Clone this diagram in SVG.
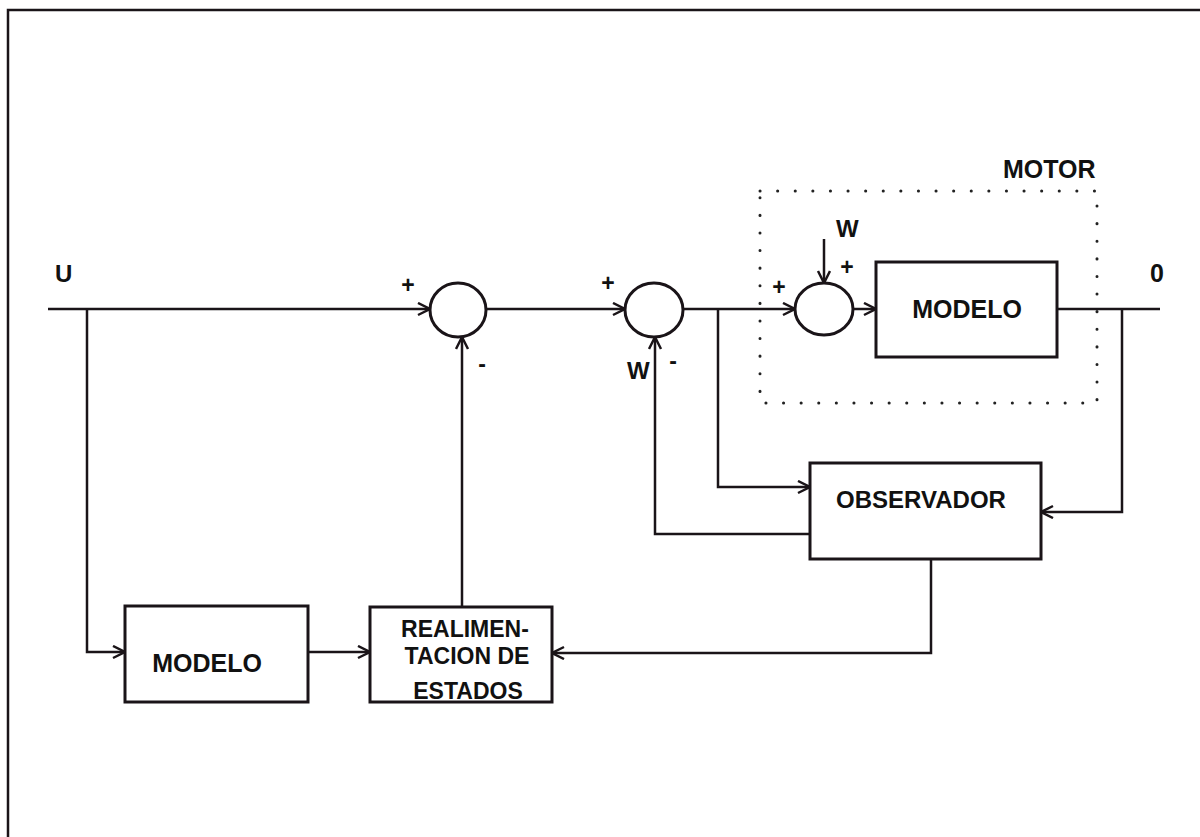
<svg xmlns="http://www.w3.org/2000/svg" width="1200" height="837" viewBox="0 0 1200 837">
<defs>
<marker id="arr" markerUnits="userSpaceOnUse" markerWidth="16" markerHeight="16" refX="13" refY="7" orient="auto">
<path d="M1,1 L13,7 L1,13" fill="none" stroke="#1a1418" stroke-width="2.5"/>
</marker>
</defs>
<style>
.ln{fill:none;stroke:#1a1418;stroke-width:2.5}
.bx{fill:#fff;stroke:#1a1418;stroke-width:3}
.t{font-family:"Liberation Sans",Arial,sans-serif;font-weight:bold;fill:#111}
.big{font-size:24px}
.mod{font-size:25px}
.re{font-size:23px}
.sg{font-size:23px}
</style>
<rect width="1200" height="837" fill="#fff"/>
<g id="frame">
<path class="ln" d="M8,837 V10 H1200" stroke-width="3"/>
</g>
<g id="motor">
<rect x="760" y="191" width="337" height="212" fill="none" stroke="#222" stroke-width="3" stroke-linecap="round" stroke-dasharray="0.1 17.5"/>
<text class="t mod" x="1003" y="178">MOTOR</text>
</g>
<g id="connectors">
<path class="ln" d="M48,309 H430" marker-end="url(#arr)"/>
<path class="ln" d="M87,309 V652 H125" marker-end="url(#arr)"/>
<path class="ln" d="M308,652 H370" marker-end="url(#arr)"/>
<path class="ln" d="M462,607 V337" marker-end="url(#arr)"/>
<path class="ln" d="M487,309 H625" marker-end="url(#arr)"/>
<path class="ln" d="M683,309 H795" marker-end="url(#arr)"/>
<path class="ln" d="M718,309 V487 H810" marker-end="url(#arr)"/>
<path class="ln" d="M810,534 H655 V337" marker-end="url(#arr)"/>
<path class="ln" d="M824,239 V283" marker-end="url(#arr)"/>
<path class="ln" d="M853,309 H876" marker-end="url(#arr)"/>
<path class="ln" d="M1057,309 H1160"/>
<path class="ln" d="M1122,309 V512 H1041" marker-end="url(#arr)"/>
<path class="ln" d="M931,559 V653 H552" marker-end="url(#arr)"/>
</g>
<g id="sum1">
<ellipse class="bx" cx="458" cy="310" rx="28" ry="27" stroke-width="2.5"/>
<text class="t sg" x="408" y="293" text-anchor="middle">+</text>
<text class="t sg" x="482" y="372" text-anchor="middle">-</text>
</g>
<g id="sum2">
<ellipse class="bx" cx="654" cy="310" rx="29" ry="27" stroke-width="2.5"/>
<text class="t sg" x="608" y="291" text-anchor="middle">+</text>
<text class="t sg" x="673" y="369" text-anchor="middle">-</text>
<text class="t big" x="627" y="379">W</text>
</g>
<g id="sum3">
<ellipse class="bx" cx="824" cy="309" rx="29" ry="26" stroke-width="2.5"/>
<text class="t sg" x="779" y="295" text-anchor="middle">+</text>
<text class="t sg" x="847" y="275" text-anchor="middle">+</text>
<text class="t big" x="836" y="237">W</text>
</g>
<g id="modelo-motor">
<rect class="bx" x="876" y="262" width="181" height="95"/>
<text class="t mod" x="967" y="318" text-anchor="middle">MODELO</text>
</g>
<g id="observador">
<rect class="bx" x="810" y="463" width="231" height="96"/>
<text class="t big" x="921" y="508" text-anchor="middle">OBSERVADOR</text>
</g>
<g id="modelo">
<rect class="bx" x="125" y="606" width="183" height="96"/>
<text class="t mod" x="207" y="672" text-anchor="middle">MODELO</text>
</g>
<g id="realimentacion">
<rect class="bx" x="370" y="607" width="182" height="95"/>
<text class="t re" x="465" y="637" text-anchor="middle">REALIMEN-</text>
<text class="t re" x="467" y="664" text-anchor="middle">TACION DE</text>
<text class="t re" x="468" y="699" text-anchor="middle">ESTADOS</text>
</g>
<g id="labels">
<text class="t big" x="55" y="282">U</text>
<text class="t mod" x="1150" y="282">0</text>
</g>
</svg>
